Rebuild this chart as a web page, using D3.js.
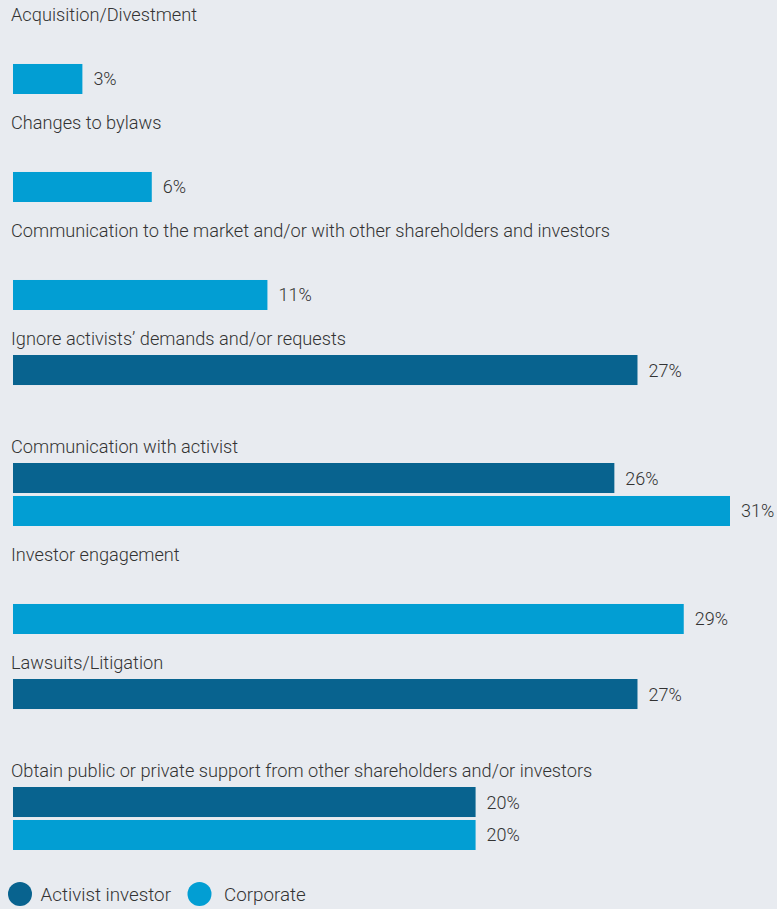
<!DOCTYPE html>
<html>
<head>
<meta charset="utf-8">
<script src="https://cdn.jsdelivr.net/npm/d3@7"></script>
<style>
  html, body { margin: 0; padding: 0; background: #e8ebf0; }
  svg { display: block; }
  text { font-family: Roboto, "Open Sans", sans-serif; font-weight: 300; fill: #333; }
</style>
</head>
<body>
<script>
// Response options, one block per option
const categories = [
  "Acquisition/Divestment",
  "Changes to bylaws",
  "Communication to the market and/or with other shareholders and investors",
  "Ignore activists\u2019 demands and/or requests",
  "Communication with activist",
  "Investor engagement",
  "Lawsuits/Litigation",
  "Obtain public or private support from other shareholders and/or investors"
];
const seriesNames = ["Activist investor", "Corporate"];
// Percent share per series (null = no bar for that series)
const activistValues  = [null, null, null, 27, 26, null, 27, 20];
const corporateValues = [3, 6, 11, null, 31, 29, null, 20];
const seriesColors = ["#08638f", "#029ed3"];

const W = 777, H = 909;
const svg = d3.select("body").append("svg").attr("width", W).attr("height", H);

const x = d3.scaleLinear().domain([0, 31]).range([13, 730]);
const yCat = d3.scaleBand().domain(categories).range([0, 864]).paddingInner(0);
const ySer = d3.scaleBand().domain(seriesNames).range([31, 94]).paddingInner(0.09);
const color = d3.scaleOrdinal().domain(seriesNames).range(seriesColors);

const rows = [];
categories.forEach((c, i) => {
  [activistValues, corporateValues].forEach((vals, s) => {
    if (vals[i] != null) rows.push({ cat: c, series: seriesNames[s], value: vals[i] });
  });
});

// Category titles
svg.append("g").selectAll("text").data(categories).join("text")
  .attr("x", 11)
  .attr("y", d => yCat(d) + 21)
  .style("font-size", "18.2px")
  .text(d => d);

// Bars
svg.append("g").selectAll("rect").data(rows).join("rect")
  .attr("x", x(0))
  .attr("y", d => yCat(d.cat) + ySer(d.series))
  .attr("width", d => x(d.value) - x(0))
  .attr("height", ySer.bandwidth())
  .attr("fill", d => color(d.series));

// Value labels
svg.append("g").selectAll("text").data(rows).join("text")
  .attr("x", d => x(d.value) + 11)
  .attr("y", d => yCat(d.cat) + ySer(d.series) + ySer.bandwidth() / 2 + 6.5)
  .style("font-size", "18px")
  .text(d => d.value + "%");

// Legend
const legendCircleX = [20, 199.5];
const legendTextX = [40.5, 224];
const lg = svg.append("g").selectAll("g").data(seriesNames).join("g");
lg.append("circle")
  .attr("cx", (d, i) => legendCircleX[i]).attr("cy", 894)
  .attr("r", 12).attr("fill", d => color(d));
lg.append("text")
  .attr("x", (d, i) => legendTextX[i]).attr("y", 900.5)
  .style("font-size", "18.8px").text(d => d);
</script>
</body>
</html>
